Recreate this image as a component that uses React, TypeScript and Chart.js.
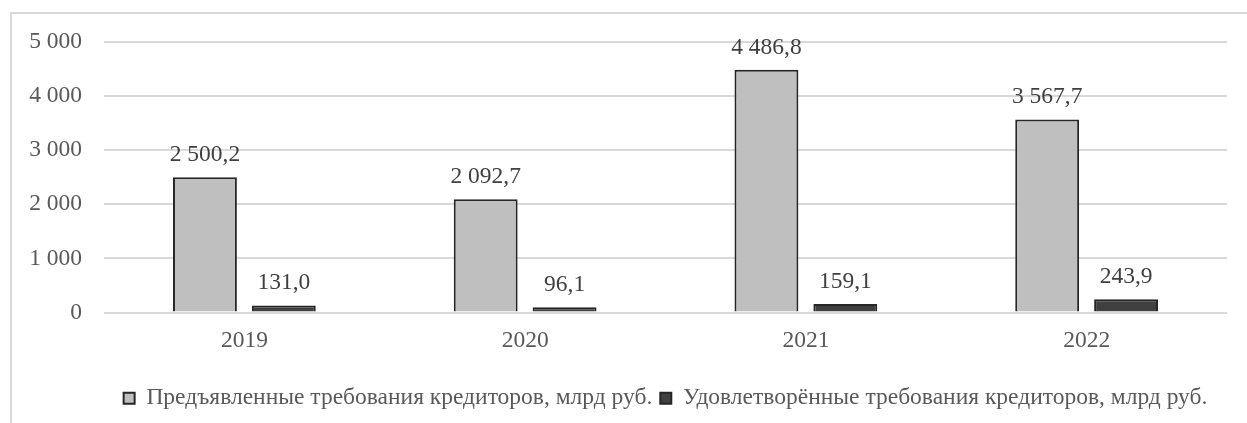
import React, { useEffect, useRef } from "react";
import { Chart, registerables } from "chart.js";

Chart.register(...registerables);

const categories: string[] = ["2019", "2020", "2021", "2022"];
const claimedValues: number[] = [2500.2, 2092.7, 4486.8, 3567.7];
const satisfiedValues: number[] = [131.0, 96.1, 159.1, 243.9];
const seriesNames: string[] = [
  "Предъявленные требования кредиторов, млрд руб.",
  "Удовлетворённые требования кредиторов, млрд руб.",
];
const yMin = 0;
const yMax = 5000;
const yStep = 1000;

const FONT = "'Liberation Serif', 'Times New Roman', serif";
const TEXT = "#595959";

function groupThousands(s: string): string {
  return s.replace(/\B(?=(\d{3})+(?!\d))/g, " ");
}
function fmtValue(v: number): string {
  const [i, d] = v.toFixed(1).split(".");
  return groupThousands(i) + "," + d;
}
function fmtTick(v: number): string {
  return groupThousands(String(Math.round(v)));
}

const valueLabels = {
  id: "valueLabels",
  afterDatasetsDraw(chart: any) {
    const ctx = chart.ctx;
    ctx.save();
    ctx.font = `23.5px ${FONT}`;
    ctx.fillStyle = "#404040";
    ctx.textAlign = "center";
    ctx.textBaseline = "alphabetic";
    chart.data.datasets.forEach((ds: any, di: number) => {
      const meta = chart.getDatasetMeta(di);
      meta.data.forEach((el: any, i: number) => {
        ctx.fillText(fmtValue(ds.data[i]), el.x, el.y - 16);
      });
    });
    ctx.restore();
  },
};

export default function App() {
  const ref = useRef<HTMLCanvasElement | null>(null);
  useEffect(() => {
    if (!ref.current) return;
    const chart = new Chart(ref.current, {
      type: "bar",
      data: {
        labels: categories,
        datasets: [
          {
            label: seriesNames[0],
            data: claimedValues,
            backgroundColor: "#bfbfbf",
            borderColor: "#262626",
            borderWidth: 2,
            categoryPercentage: 0.562,
            barPercentage: 0.81,
          },
          {
            label: seriesNames[1],
            data: satisfiedValues,
            backgroundColor: "#404040",
            borderColor: "#262626",
            borderWidth: 2,
            categoryPercentage: 0.562,
            barPercentage: 0.81,
          },
        ],
      },
      options: {
        animation: false,
        responsive: false,
        devicePixelRatio: 1,
        layout: { padding: { top: 42, left: 0, right: 20, bottom: 3 } },
        plugins: {
          tooltip: { enabled: false },
          legend: {
            position: "bottom",
            fullSize: false,
            labels: {
              boxWidth: 11,
              boxHeight: 11,
              padding: 8,
              color: TEXT,
              font: { family: FONT, size: 23.5 },
            },
          },
        },
        scales: {
          x: {
            grid: { display: false, drawTicks: false },
            border: { display: false },
            ticks: { color: TEXT, font: { family: FONT, size: 23.5 }, padding: 14 },
            afterFit(scale: any) {
              scale.height = 66;
            },
          },
          y: {
            min: yMin,
            max: yMax,
            grid: { color: "#d9d9d9", lineWidth: 2, drawTicks: false },
            border: { display: false },
            ticks: {
              stepSize: yStep,
              color: TEXT,
              font: { family: FONT, size: 23.5 },
              padding: 22,
              callback: (v: any) => fmtTick(Number(v)),
            },
            afterFit(scale: any) {
              scale.width = 104;
            },
          },
        },
      },
      plugins: [valueLabels],
    });
    return () => chart.destroy();
  }, []);
  return (
    <div
      style={{
        position: "fixed",
        left: 0,
        top: 0,
        width: 1247,
        height: 423,
        overflow: "hidden",
        background: "#ffffff",
      }}
    >
      <div
        style={{
          position: "absolute",
          left: 10,
          top: 12,
          width: 1400,
          height: 600,
          borderLeft: "2px solid #d9d9d9",
          borderTop: "2px solid #d9d9d9",
        }}
      />
      <canvas
        ref={ref}
        width={1247}
        height={423}
        style={{ position: "absolute", left: 0, top: 0, width: 1247, height: 423 }}
      />
    </div>
  );
}
